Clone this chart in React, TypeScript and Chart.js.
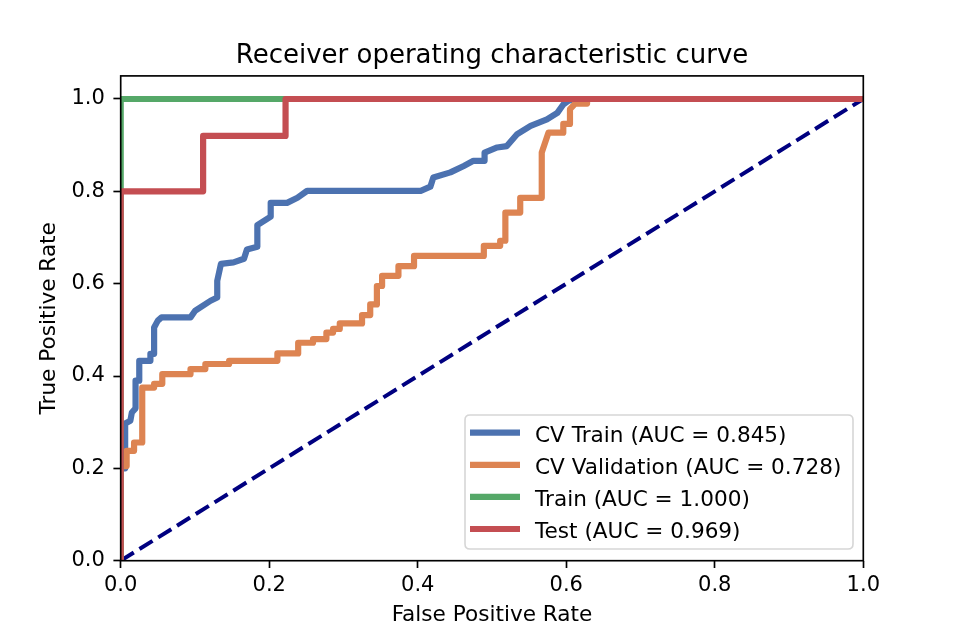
import React, { useEffect, useRef } from "react";
import { Chart, registerables } from "chart.js";

Chart.register(...registerables);

// ---- data ----
const chanceFpr = [0, 1];
const chanceTpr = [0, 1];

const cvTrainFpr = [0, 0, 0.006, 0.006, 0.013, 0.015, 0.02, 0.02, 0.025, 0.025, 0.04, 0.04, 0.045, 0.045, 0.05, 0.055, 0.094, 0.1, 0.121, 0.13, 0.13, 0.135, 0.152, 0.166, 0.17, 0.184, 0.184, 0.193, 0.202, 0.202, 0.224, 0.238, 0.251, 0.404, 0.417, 0.421, 0.444, 0.462, 0.475, 0.49, 0.49, 0.507, 0.52, 0.534, 0.552, 0.574, 0.588, 0.596, 0.603, 0.61, 1];
const cvTrainTpr = [0, 0.2, 0.2, 0.297, 0.303, 0.321, 0.33, 0.39, 0.39, 0.433, 0.433, 0.448, 0.448, 0.505, 0.52, 0.527, 0.527, 0.541, 0.563, 0.57, 0.606, 0.643, 0.646, 0.654, 0.674, 0.68, 0.727, 0.736, 0.745, 0.775, 0.775, 0.786, 0.801, 0.801, 0.81, 0.83, 0.841, 0.855, 0.866, 0.866, 0.884, 0.895, 0.898, 0.924, 0.942, 0.956, 0.97, 0.988, 0.996, 1, 1];

const cvValFpr = [0, 0, 0.008, 0.008, 0.018, 0.018, 0.029, 0.029, 0.045, 0.045, 0.056, 0.056, 0.094, 0.094, 0.114, 0.114, 0.146, 0.146, 0.211, 0.211, 0.239, 0.239, 0.259, 0.259, 0.277, 0.277, 0.286, 0.286, 0.295, 0.295, 0.325, 0.325, 0.336, 0.336, 0.345, 0.345, 0.352, 0.352, 0.374, 0.374, 0.395, 0.395, 0.489, 0.489, 0.511, 0.511, 0.518, 0.518, 0.538, 0.538, 0.567, 0.567, 0.576, 0.596, 0.596, 0.605, 0.605, 0.612, 0.628, 0.628, 1];
const cvValTpr = [0, 0.205, 0.205, 0.238, 0.238, 0.256, 0.256, 0.375, 0.375, 0.383, 0.383, 0.404, 0.404, 0.415, 0.415, 0.426, 0.426, 0.433, 0.433, 0.449, 0.449, 0.472, 0.472, 0.48, 0.48, 0.494, 0.494, 0.502, 0.502, 0.514, 0.514, 0.532, 0.532, 0.555, 0.555, 0.595, 0.595, 0.617, 0.617, 0.638, 0.638, 0.66, 0.66, 0.682, 0.682, 0.693, 0.693, 0.754, 0.754, 0.786, 0.786, 0.884, 0.927, 0.927, 0.946, 0.946, 0.978, 0.99, 0.99, 1, 1];

const trainFpr = [0, 0, 1];
const trainTpr = [0, 1, 1];

const testFpr = [0, 0, 0.111, 0.111, 0.222, 0.222, 1];
const testTpr = [0, 0.8, 0.8, 0.92, 0.92, 1, 1];

const seriesLabels = [
  "CV Train (AUC = 0.845)",
  "CV Validation (AUC = 0.728)",
  "Train (AUC = 1.000)",
  "Test (AUC = 0.969)",
];
const seriesColors = ["#4C72B0", "#DD8452", "#55A868", "#C44E52"];

const xTicks = [0, 0.2, 0.4, 0.6, 0.8, 1.0];
const yTicks = [0, 0.2, 0.4, 0.6, 0.8, 1.0];

const titleText = "Receiver operating characteristic curve";
const xTitle = "False Positive Rate";
const yTitle = "True Positive Rate";

const FONT = "'DejaVu Sans', sans-serif";

function pts(xs: number[], ys: number[]) {
  return xs.map((x, i) => ({ x, y: ys[i] }));
}

export default function App() {
  const ref = useRef<HTMLCanvasElement | null>(null);

  useEffect(() => {
    if (!ref.current) return;

    const boxPlugin = {
      id: "boxAndTitle",
      afterDatasetsDraw(chart: any) {
        const { ctx, chartArea } = chart;
        ctx.save();
        ctx.strokeStyle = "#000";
        ctx.lineWidth = 1.67;
        ctx.strokeRect(chartArea.left, chartArea.top, chartArea.right - chartArea.left, chartArea.bottom - chartArea.top);
        ctx.restore();
      },
      afterDraw(chart: any) {
        const { ctx, chartArea } = chart;
        ctx.save();
        // title
        ctx.fillStyle = "#000";
        ctx.font = `26px ${FONT}`;
        ctx.textAlign = "center";
        ctx.textBaseline = "alphabetic";
        ctx.fillText(titleText, (chartArea.left + chartArea.right) / 2, 63.3);

        // legend
        const lx = 465, ly = 415, lw = 388, lh = 134, r = 5;
        ctx.beginPath();
        ctx.moveTo(lx + r, ly);
        ctx.lineTo(lx + lw - r, ly);
        ctx.quadraticCurveTo(lx + lw, ly, lx + lw, ly + r);
        ctx.lineTo(lx + lw, ly + lh - r);
        ctx.quadraticCurveTo(lx + lw, ly + lh, lx + lw - r, ly + lh);
        ctx.lineTo(lx + r, ly + lh);
        ctx.quadraticCurveTo(lx, ly + lh, lx, ly + lh - r);
        ctx.lineTo(lx, ly + r);
        ctx.quadraticCurveTo(lx, ly, lx + r, ly);
        ctx.closePath();
        ctx.fillStyle = "rgba(255,255,255,0.8)";
        ctx.fill();
        ctx.strokeStyle = "#d6d6d6";
        ctx.lineWidth = 1.6;
        ctx.stroke();

        const items = chart.data.datasets.filter((d: any) => d.inLegend);
        ctx.font = `21.6px ${FONT}`;
        ctx.textAlign = "left";
        ctx.textBaseline = "alphabetic";
        items.forEach((d: any, i: number) => {
          const cy = 432.7 + i * 32.1;
          ctx.beginPath();
          ctx.strokeStyle = d.borderColor;
          ctx.lineWidth = 6.2;
          ctx.lineCap = "butt";
          ctx.moveTo(470, cy);
          ctx.lineTo(520, cy);
          ctx.stroke();
          ctx.fillStyle = "#000";
          ctx.fillText(d.label, 535, cy + 9);
        });
        ctx.restore();
      },
    };

    const lineDs = (label: string, color: string, data: any[], order: number) => ({
      label,
      data,
      borderColor: color,
      backgroundColor: color,
      borderWidth: 6.2,
      pointRadius: 0,
      tension: 0,
      fill: false,
      clip: 0,
      order,
      inLegend: true,
      borderJoinStyle: "round" as const,
      borderCapStyle: "square" as const,
    });

    const chart = new Chart(ref.current, {
      type: "line",
      data: {
        datasets: [
          {
            label: "chance",
            data: pts(chanceFpr, chanceTpr),
            borderColor: "#000080",
            borderWidth: 4,
            borderDash: [15.4, 6.7],
            borderCapStyle: "butt",
            pointRadius: 0,
            tension: 0,
            fill: false,
            clip: 0,
            order: 10,
            inLegend: false,
          } as any,
          lineDs(seriesLabels[0], seriesColors[0], pts(cvTrainFpr, cvTrainTpr), 4),
          lineDs(seriesLabels[1], seriesColors[1], pts(cvValFpr, cvValTpr), 3),
          lineDs(seriesLabels[2], seriesColors[2], pts(trainFpr, trainTpr), 2),
          lineDs(seriesLabels[3], seriesColors[3], pts(testFpr, testTpr), 1),
        ],
      },
      options: {
        animation: false,
        responsive: true,
        maintainAspectRatio: false,
        layout: { padding: { left: 0, right: 96.7, top: 75.9, bottom: 0 } },
        plugins: {
          legend: { display: false },
          title: { display: false },
          tooltip: { enabled: false },
        },
        scales: {
          x: {
            type: "linear",
            min: 0,
            max: 1,
            afterFit: (s: any) => {
              s.height = 69.3;
            },
            afterBuildTicks: (s: any) => {
              s.ticks = xTicks.map((v) => ({ value: v }));
            },
            grid: {
              drawOnChartArea: false,
              drawTicks: true,
              tickLength: 7.3,
              tickWidth: 1.67,
              tickColor: "#000",
            },
            border: { display: false },
            ticks: {
              color: "#000",
              font: { family: FONT, size: 21 },
              padding: 5,
              maxRotation: 0,
              callback: (v: any) => Number(v).toFixed(1),
            },
            title: {
              display: true,
              text: xTitle,
              color: "#000",
              font: { family: FONT, size: 21.6 },
              padding: { top: 0, bottom: 2 },
            },
          },
          y: {
            type: "linear",
            min: 0,
            max: 1.05,
            afterFit: (s: any) => {
              s.width = 120.7;
            },
            afterBuildTicks: (s: any) => {
              s.ticks = yTicks.map((v) => ({ value: v }));
            },
            grid: {
              drawOnChartArea: false,
              drawTicks: true,
              tickLength: 7.3,
              tickWidth: 1.67,
              tickColor: "#000",
            },
            border: { display: false },
            ticks: {
              color: "#000",
              font: { family: FONT, size: 21 },
              padding: 8.5,
              callback: (v: any) => Number(v).toFixed(1),
            },
            title: {
              display: true,
              text: yTitle,
              color: "#000",
              font: { family: FONT, size: 21.6 },
              padding: { top: 36, bottom: 0 },
            },
          },
        },
      } as any,
      plugins: [boxPlugin],
    });

    return () => chart.destroy();
  }, []);

  return (
    <div style={{ position: "fixed", left: 0, top: 0, width: 960, height: 630, background: "#fff" }}>
      <canvas ref={ref} />
    </div>
  );
}
